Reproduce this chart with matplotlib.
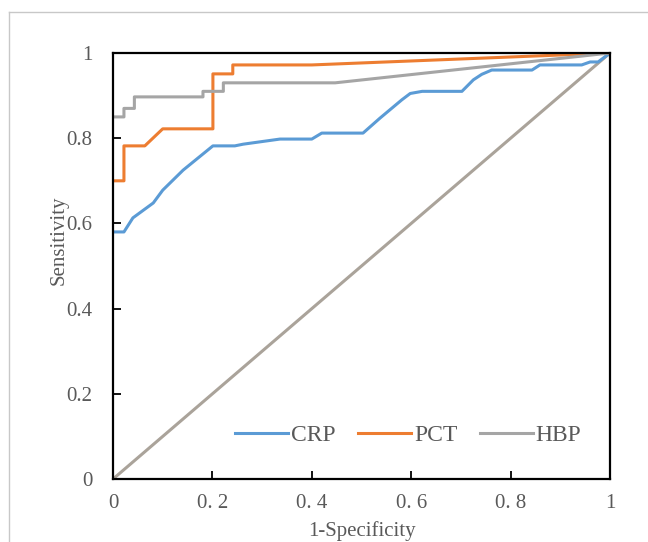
import matplotlib

matplotlib.use("Agg")
import matplotlib.pyplot as plt
from matplotlib.lines import Line2D

# ROC curve points (1-specificity, sensitivity)
crp_fpr = [0.0, 0.022, 0.04, 0.081, 0.10, 0.141, 0.201, 0.245, 0.262, 0.336, 0.40, 0.42,
           0.503, 0.537, 0.581, 0.598, 0.622, 0.702, 0.725, 0.742, 0.762, 0.843, 0.859,
           0.943, 0.96, 0.976, 1.0]
crp_tpr = [0.58, 0.58, 0.613, 0.648, 0.678, 0.725, 0.782, 0.782, 0.786, 0.798, 0.798, 0.812,
           0.812, 0.847, 0.89, 0.905, 0.91, 0.91, 0.937, 0.95, 0.96, 0.96, 0.972,
           0.972, 0.979, 0.979, 1.0]

pct_fpr = [0.0, 0.022, 0.022, 0.064, 0.10, 0.201, 0.201, 0.241, 0.241, 0.40, 1.0]
pct_tpr = [0.70, 0.70, 0.782, 0.782, 0.822, 0.822, 0.951, 0.951, 0.972, 0.972, 1.0]

hbp_fpr = [0.0, 0.022, 0.022, 0.043, 0.043, 0.181, 0.181, 0.222, 0.222, 0.447, 1.0]
hbp_tpr = [0.85, 0.85, 0.87, 0.87, 0.897, 0.897, 0.91, 0.91, 0.93, 0.93, 1.0]

ref_line = [0.0, 1.0]

series = ["CRP", "PCT", "HBP"]
colors = ["#5B9BD5", "#ED7D31", "#A5A5A5"]

x_ticks = [0, 0.2, 0.4, 0.6, 0.8, 1.0]
x_ticklabels = ["0", "0. 2", "0. 4", "0. 6", "0. 8", "1"]
y_ticks = [0, 0.2, 0.4, 0.6, 0.8, 1.0]
y_ticklabels = ["0", "0.2", "0.4", "0.6", "0.8", "1"]

plt.rcParams["font.family"] = ["Liberation Serif", "DejaVu Serif"]
label_color = "#595959"

fig = plt.figure(figsize=(6.48, 5.42), dpi=100, facecolor="white")
ax = fig.add_axes([0.1744, 0.1162, 0.767, 0.786])

ax.plot(ref_line, ref_line, color="#AAA39A", lw=2.2, zorder=1)
for xs, ys, name, c in zip([crp_fpr, pct_fpr, hbp_fpr], [crp_tpr, pct_tpr, hbp_tpr], series, colors):
    ax.plot(xs, ys, color=c, lw=2.2, label=name, zorder=2)

ax.set_xlim(0, 1)
ax.set_ylim(0, 1)
ax.set_xticks(x_ticks)
ax.set_xticklabels(x_ticklabels)
ax.set_yticks(y_ticks)
ax.set_yticklabels(y_ticklabels)
ax.tick_params(axis="x", direction="in", length=6, width=1.3, pad=11, labelsize=15,
               labelcolor=label_color, color="black")
ax.tick_params(axis="y", direction="in", length=6, width=1.3, pad=15, labelsize=15,
               labelcolor=label_color, color="black")
for sp in ax.spines.values():
    sp.set_linewidth(1.6)
    sp.set_color("black")

ax.set_xlabel("1-Specificity", fontsize=15, color=label_color)
ax.set_ylabel("Sensitivity", fontsize=15, color=label_color)
ax.xaxis.set_label_coords(0.5, -0.098)
ax.yaxis.set_label_coords(-0.09, 0.56)

ax.legend(loc="center", bbox_to_anchor=(0.594, 0.103), ncol=3, frameon=False,
          fontsize=17, handlelength=2.25, handletextpad=0.12, columnspacing=0.95,
          labelcolor=label_color)

# thin light border of the chart area (top and left edges visible)
fig.add_artist(Line2D([9 / 648, 1.0], [1 - 12 / 542, 1 - 12 / 542], color="#C8C8C8", lw=1.0))
fig.add_artist(Line2D([9 / 648, 9 / 648], [0.0, 1 - 12 / 542], color="#C8C8C8", lw=1.0))

fig.savefig("out.png", dpi=100)
